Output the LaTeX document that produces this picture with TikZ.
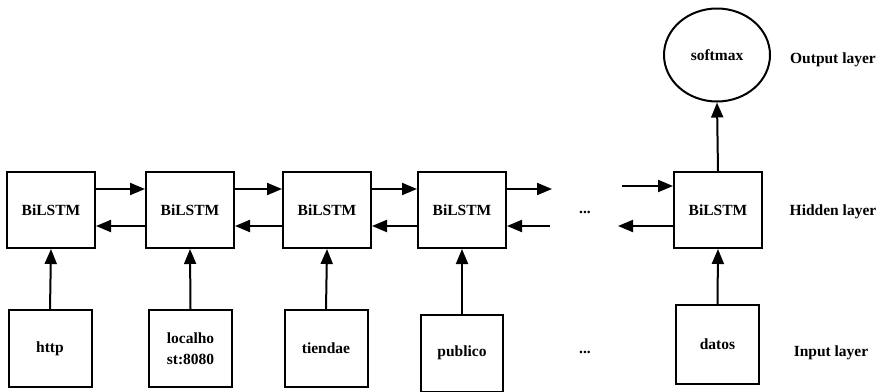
\documentclass[tikz,border=0pt]{standalone}
\usepackage{fontspec}
\setmainfont{Liberation Serif}
\usetikzlibrary{arrows.meta,shapes.geometric}

\tikzset{
    hbox/.style={draw, line width=2pt, minimum width=88pt, minimum height=76pt,
        font=\fontsize{15.5}{18}\selectfont\bfseries},
    inbox/.style={draw, line width=2pt, minimum width=83pt, minimum height=77pt,
        align=center, font=\fontsize{15.5}{21}\selectfont\bfseries},
    lbl/.style={font=\fontsize{15.5}{18}\selectfont\bfseries},
    arr/.style={line width=2pt, -{Triangle[length=15pt, width=12pt]}}
}

\begin{document}
\begin{tikzpicture}[x=1pt, y=-1pt]
        \useasboundingbox (0,0) rectangle (883,391);
        % hidden layer
        \node[hbox] (h1) at (51,210) {BiLSTM};
        \node[hbox] (h2) at (190,210) {BiLSTM};
        \node[hbox] (h3) at (327,210) {BiLSTM};
        \node[hbox] (h4) at (462,210) {BiLSTM};
        \node[hbox] (h5) at (718,210) {BiLSTM};
        \node[lbl] (hdots) at (585,212) {...};
        % input layer
        \node[inbox] (i1) at (50,348.5) {http};
        \node[inbox] (i2) at (190.5,348.5) {localho\\st:8080};
        \node[inbox] (i3) at (326,348.5) {tiendae};
        \node[inbox, minimum width=82pt] (i4) at (462,353) {publico};
        \node[inbox, minimum height=79pt] (i5) at (717.5,344.5) {datos};
        \node[lbl] (idots) at (585,352) {...};
        % output layer
        \node[draw, ellipse, line width=2pt, minimum width=106pt, minimum height=93pt,
            font=\fontsize{15.5}{18}\selectfont\bfseries] (sm) at (717,55) {softmax};
        % layer names
        \node[lbl] (lout) at (833,60) {Output layer};
        \node[lbl] (lhid) at (833,212) {Hidden layer};
        \node[lbl] (lin) at (831,353) {Input layer};
        % free ends next to the dots
        \coordinate (f4) at (552,189);
        \coordinate (b4) at (550,226);
        \coordinate (f5) at (622,186);
        \coordinate (b5) at (618,226);
        % forward and backward arrows
        \draw[arr] ([yshift=21pt]h1.east) -- ([yshift=21pt]h2.west);
        \draw[arr] ([yshift=-16pt]h2.west) -- ([yshift=-16pt]h1.east);
        \draw[arr] ([yshift=21pt]h2.east) -- ([yshift=21pt]h3.west);
        \draw[arr] ([yshift=-16pt]h3.west) -- ([yshift=-16pt]h2.east);
        \draw[arr] ([yshift=21pt]h3.east) -- ([yshift=21pt]h4.west);
        \draw[arr] ([yshift=-16pt]h4.west) -- ([yshift=-16pt]h3.east);
        \draw[arr] ([yshift=21pt]h4.east) -- (f4);
        \draw[arr] (b4) -- ([yshift=-16pt]h4.east);
        \draw[arr] (f5) -- (h5.west |- f5);
        \draw[arr] (h5.west |- b5) -- (b5);
        % inputs up to hidden, hidden up to output
        \foreach \n in {1,...,5}
            \draw[arr] (i\n.north) -- (h\n.south);
        \draw[arr] (h5.north) -- (sm.south);
    \end{tikzpicture}
\end{document}
